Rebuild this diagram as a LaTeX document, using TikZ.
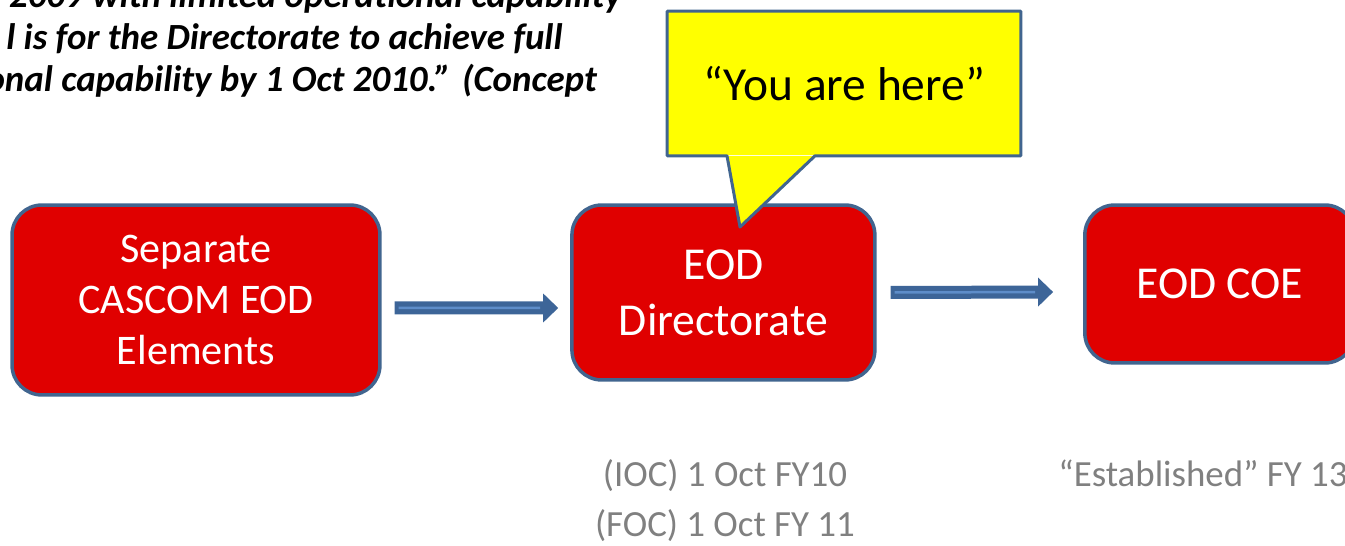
\documentclass[tikz,border=0pt]{standalone}
\usepackage{fontspec}
\setmainfont{Carlito}
\usetikzlibrary{positioning, arrows.meta}

\definecolor{boxred}{HTML}{E00000}
\definecolor{boxedge}{HTML}{41658F}
\definecolor{arrowdark}{HTML}{3D6598}
\definecolor{arrowlight}{HTML}{5E8DC9}
\definecolor{noteyellow}{HTML}{FFFF00}
\definecolor{notegray}{HTML}{808080}

\tikzset{
  stage/.style={draw=boxedge, fill=boxred, line width=0.07cm, rounded corners=0.6cm,
    text=white, align=center, inner sep=0pt},
  blockarrow/.style={draw=arrowdark, line width=0.26cm,
    -{Triangle[length=0.3cm, width=0.58cm, line width=0pt]}},
  arrowstripe/.style={draw=arrowlight, line width=0.05cm, shorten <=0.08cm, shorten >=0.36cm},
  youarehere/.style={fill=noteyellow, minimum width=7.06cm, minimum height=2.88cm, inner sep=0pt},
  calloutline/.style={draw=boxedge, line width=0.06cm, line join=round},
  milestone/.style={text=notegray, font=\fontsize{21}{25}\selectfont, inner sep=0pt, anchor=base},
  quoteline/.style={font=\fontsize{21}{24}\selectfont\bfseries\itshape, inner sep=0pt, anchor=base east},
}

\begin{document}
\begin{tikzpicture}[x=0.02cm, y=-0.02cm, on grid]
  \clip (0,0) rectangle (1345,546);

  % quote from the concept plan, cut off by the slide edge
  \node[quoteline] (quote1) at (622,8) {2009 with limited operational capability};
  \node[quoteline] (quote2) at (563,50) {l is for the Directorate to achieve full};
  \node[quoteline] (quote3) at (597,92) {onal capability by 1 Oct 2010.” (Concept};

  % stages
  \node[stage, minimum width=7.36cm, minimum height=3.8cm, font=\fontsize{24}{29}\selectfont]
    (sep) at (196,300) {Separate\\CASCOM EOD\\Elements};
  \node[stage, minimum width=6.06cm, minimum height=3.5cm, font=\fontsize{26}{32}\selectfont,
    above right=0.15cm and 10.55cm of sep] (dir) {EOD\\Directorate};
  \node[stage, minimum width=5.4cm, minimum height=3.16cm, font=\fontsize{26}{32}\selectfont,
    above right=0.17cm and 9.93cm of dir] (coe) {EOD COE};

  % arrows
  \draw[blockarrow] ([shift={(13,8)}]sep.east) -- ([shift={(-12,15.5)}]dir.west);
  \draw[arrowstripe] ([shift={(13,8)}]sep.east) -- ([shift={(-12,15.5)}]dir.west);
  \draw[blockarrow] ([shift={(14,0)}]dir.east) -- ([shift={(-30,8)}]coe.west);
  \draw[arrowstripe] ([shift={(14,0)}]dir.east) -- ([shift={(-30,8)}]coe.west);

  % callout
  \coordinate (tip) at (740,227);
  \node[youarehere, font=\fontsize{27}{32}\selectfont] (here) at (844,83.5) {“You are here”};
  \fill[noteyellow] ([shift={(-117,0)}]here.south) -- (tip) -- ([shift={(-29,0)}]here.south) -- cycle;
  \draw[calloutline] (here.south west) -- (here.north west) -- (here.north east) -- (here.south east)
    -- ([shift={(-29,0)}]here.south) -- (tip) -- ([shift={(-117,0)}]here.south) -- cycle;

  % dates
  \node[milestone] (ioc) at (725,487) {(IOC) 1 Oct FY10};
  \node[milestone] (foc) at (725,537) {(FOC) 1 Oct FY 11};
  \node[milestone, anchor=base west] (est) at (1058,487) {“Established” FY 13};
\end{tikzpicture}
\end{document}
